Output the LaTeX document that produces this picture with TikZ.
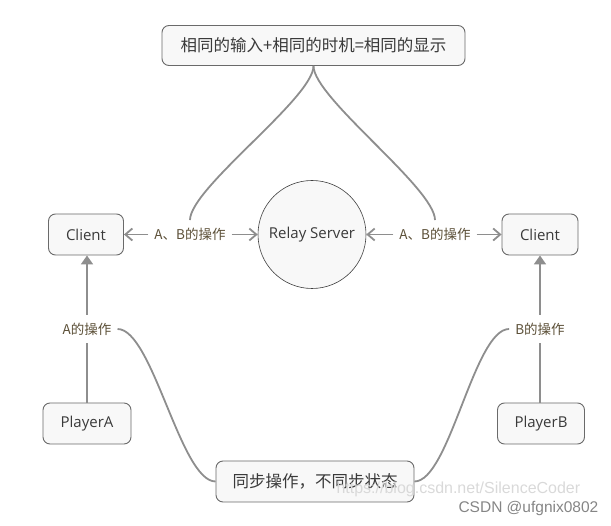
\documentclass[tikz,border=0pt]{standalone}
\usepackage{fontspec}
\setmainfont{Open Sans}
\newfontfamily\cjk{Noto Sans CJK SC}
\newfontfamily\wmfont{Liberation Sans}
\usetikzlibrary{arrows.meta}
\definecolor{connc}{HTML}{8E8E8E}
\definecolor{bordc}{HTML}{6A6A6A}
\definecolor{boxfillc}{HTML}{F8F8F8}
\definecolor{txtc}{HTML}{3A3A3A}
\definecolor{labc}{HTML}{5C5038}
\begin{document}
\begin{tikzpicture}[x=1pt,y=-1pt,
  box/.style={draw=bordc, line width=0.9pt, fill=boxfillc, rounded corners=7pt,
    text=txtc, font=\fontsize{15}{18}\selectfont, inner sep=0pt},
  cjkbox/.style={box, font=\cjk\fontsize{16.5}{19}\selectfont},
  hub/.style={circle, draw=black!75, line width=0.6pt, fill=boxfillc,
    minimum size=108pt, inner sep=0pt, text=txtc, font=\fontsize{15}{18}\selectfont},
  lbl/.style={text=labc, font=\cjk\fontsize{13.5}{16}\selectfont,
    inner xsep=6pt, inner ysep=8pt},
  connline/.style={draw=connc, line width=1.8pt},
  barb/.style={connline, -{Straight Barb[length=7pt,width=12pt]}},
  tri/.style={connline, -{Triangle[length=9pt,width=12pt]}},
  wm/.style={font=\wmfont\fontsize{16}{18}\selectfont, anchor=base west}
]
\useasboundingbox (0,0) rectangle (611,526);

% nodes
\node[cjkbox, minimum width=303pt, minimum height=40pt] (top) at (313.5,45.5)
  {相同的输入+相同的时机=相同的显示};
\node[box, minimum width=75pt, minimum height=41pt] (clientL) at (86,234.5) {Client};
\node[hub] (relay) at (312,234.5) {Relay Server};
\node[box, minimum width=76pt, minimum height=41pt] (clientR) at (540,234.5) {Client};
\node[box, minimum width=88pt, minimum height=41pt] (playerA) at (87,423.5) {PlayerA};
\node[box, minimum width=87pt, minimum height=41pt] (playerB) at (541,423.5) {PlayerB};
\node[cjkbox, minimum width=198pt, minimum height=41pt] (bottom) at (315,481.5)
  {同步操作，不同步状态};

% labels
\node[lbl] (labL) at (190,234.5) {A、B的操作};
\node[lbl] (labR) at (435,234.5) {A、B的操作};
\node[lbl] (labA) at (87,329) {A的操作};
\node[lbl] (labB) at (540,329) {B的操作};

% relay arrows
\draw[barb] (labL.west) -- (clientL.east);
\draw[barb] (labL.east) -- (relay.west);
\draw[barb] (labR.west) -- (relay.east);
\draw[barb] (labR.east) -- (clientR.west);

% player arrows
\draw[connline] (playerA.north -| labA.south) -- (labA.south);
\draw[tri] (labA.north) -- (labA.north |- clientL.south);
\draw[connline] (playerB.north -| labB.south) -- (labB.south);
\draw[tri] (labB.north) -- (labB.north |- clientR.south);

% top curves
\draw[connline] (top.south) .. controls +(0,32) and +(0,-32) .. (labL.north);
\draw[connline] (top.south) .. controls +(0,32) and +(0,-32) .. (labR.north);

% bottom curves
\draw[connline] (labA.east) .. controls +(35,0) and +(-35,0) .. (bottom.west);
\draw[connline] (bottom.east) .. controls +(35,0) and +(-35,0) .. (labB.west);

% watermark
\node[wm, text=black!15] (wm1) at (333,494) {https://blog.csdn.net/SilenceCoder};
\node[wm, text=black!48, font=\wmfont\fontsize{15.5}{18}\selectfont] (wm2) at (455,513) {CSDN @ufgnix0802};
\end{tikzpicture}
\end{document}
